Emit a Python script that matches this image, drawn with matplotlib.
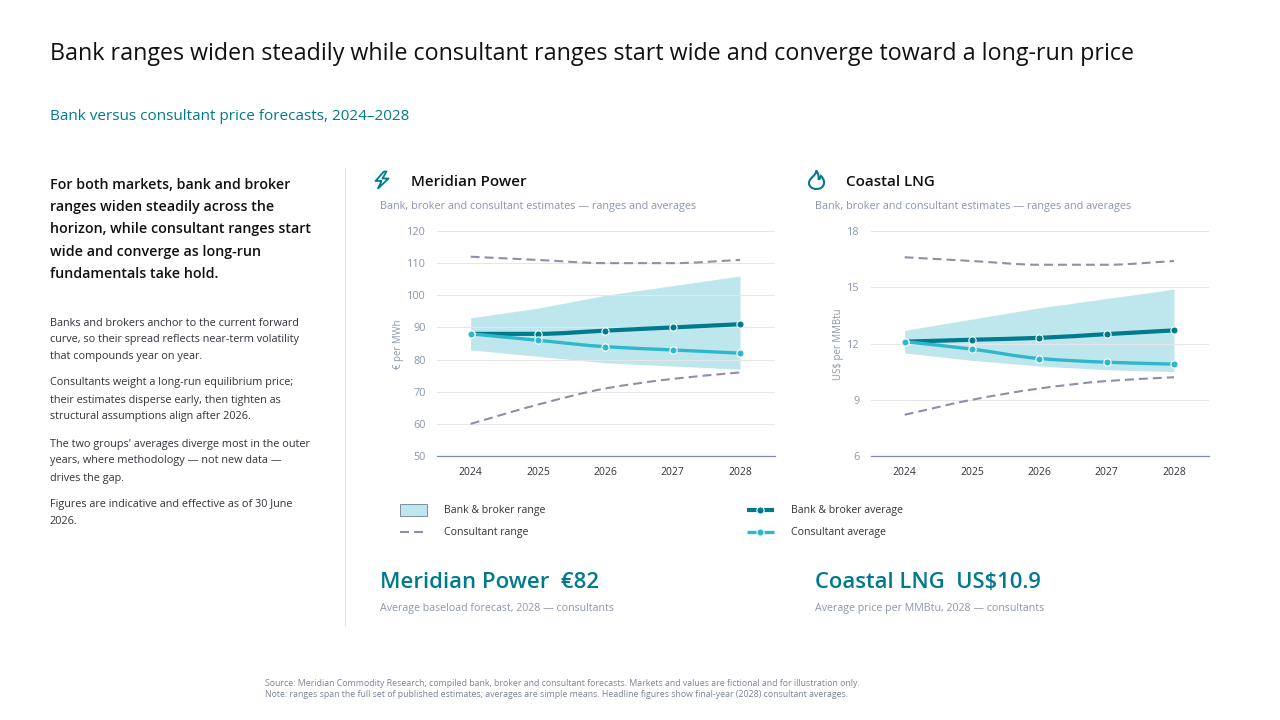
import matplotlib
matplotlib.use("Agg")
import matplotlib.pyplot as plt
from matplotlib.patches import Polygon, PathPatch, Rectangle
from matplotlib.path import Path
from matplotlib.lines import Line2D

plt.rcParams['font.family'] = ['Open Sans', 'DejaVu Sans']

years = ["2024", "2025", "2026", "2027", "2028"]

power_band_high = [93, 96, 100, 103, 106]
power_band_low = [83, 81, 79, 78, 77]
power_cons_high = [112, 111, 110, 110, 111]
power_cons_low = [60, 66, 71, 74, 76]
power_bank_avg = [88, 88, 89, 90, 91]
power_cons_avg = [88, 86, 84, 83, 82]
power_ticks = [50, 60, 70, 80, 90, 100, 110, 120]

lng_band_high = [12.7, 13.3, 13.9, 14.4, 14.9]
lng_band_low = [11.5, 11.1, 10.8, 10.6, 10.5]
lng_cons_high = [16.6, 16.4, 16.2, 16.2, 16.4]
lng_cons_low = [8.2, 9.0, 9.6, 10.0, 10.2]
lng_bank_avg = [12.1, 12.2, 12.3, 12.5, 12.7]
lng_cons_avg = [12.1, 11.7, 11.2, 11.0, 10.9]
lng_ticks = [6, 9, 12, 15, 18]

TEAL = "#007A8C"
CYAN = "#2FB8CC"
BAND = "#BEE7ED"
DASH = "#8E8FA8"
GRID = "#E4E6EA"
AXIS = "#7F8CA3"
MUTED = "#8C96AB"
DARK = "#33333B"
DASHES = (4.3, 2.4)

W, H = 1280, 720
fig = plt.figure(figsize=(W / 100, H / 100), dpi=100, facecolor="white")

# full-page axes in pixel units, for text and furniture
page = fig.add_axes([0, 0, 1, 1])
page.set_xlim(0, W)
page.set_ylim(H, 0)
page.axis("off")


def txt(x, y, s, size, color=DARK, weight="normal", ha="left"):
    page.text(x, y, s, fontsize=size, color=color, fontweight=weight, ha=ha, va="center")


def curve(x, y):
    # monotone bezier through the values
    n = len(x)
    slopes = [(y[i + 1] - y[i]) / (x[i + 1] - x[i]) for i in range(n - 1)]
    tang = [slopes[0]]
    for i in range(1, n - 1):
        if slopes[i - 1] * slopes[i] <= 0:
            tang.append(0)
        else:
            tang.append(2 * slopes[i - 1] * slopes[i] / (slopes[i - 1] + slopes[i]))
    tang.append(slopes[-1])
    verts = [(x[0], y[0])]
    for i in range(n - 1):
        h = (x[i + 1] - x[i]) / 3
        verts += [(x[i] + h, y[i] + tang[i] * h), (x[i + 1] - h, y[i + 1] - tang[i + 1] * h), (x[i + 1], y[i + 1])]
    return Path(verts, [Path.MOVETO] + [Path.CURVE4] * (len(verts) - 1))


def draw_panel(left, label_x, ticks, ylabel, band_high, band_low, cons_high, cons_low, bank_avg, cons_avg):
    ax = fig.add_axes([left / W, 1 - 456 / H, 338 / W, 225 / H])
    ax.patch.set_alpha(0)
    x = list(range(len(years)))
    ax.set_xlim(-0.5, 4.52)
    ax.set_ylim(ticks[0], ticks[-1])
    ax.set_yticks(ticks)
    ax.set_xticks(x, years)
    # gridlines sit on top of the band, under the lines
    ax.grid(axis="y", color=GRID, lw=0.75)
    ax.set_axisbelow(False)
    for s in ["top", "left", "right"]:
        ax.spines[s].set_visible(False)
    ax.spines["bottom"].set_color(AXIS)
    ax.spines["bottom"].set_linewidth(0.9)
    ax.tick_params(length=0)
    ax.tick_params(axis="x", labelsize=7.5, labelcolor=DARK, pad=8)
    ax.tick_params(axis="y", labelsize=7.8, labelcolor=MUTED, pad=8)
    ax.fill_between(x, band_low, band_high, color=BAND, lw=0, zorder=2)
    for series in (cons_high, cons_low):
        ax.add_patch(PathPatch(curve(x, series), fill=False, ec=DASH, lw=1.5, linestyle=(0, DASHES), zorder=3))
    ax.add_patch(PathPatch(curve(x, bank_avg), fill=False, ec=TEAL, lw=3, capstyle="butt", zorder=4))
    ax.plot(x, bank_avg, ls="none", marker="o", ms=5.2, mfc=TEAL, mec="white", mew=0.8, zorder=6, clip_on=False)
    ax.add_patch(PathPatch(curve(x, cons_avg), fill=False, ec=CYAN, lw=2.4, capstyle="butt", zorder=5))
    ax.plot(x, cons_avg, ls="none", marker="o", ms=5.2, mfc=CYAN, mec="white", mew=0.8, zorder=7, clip_on=False)
    page.text(label_x, 344, ylabel, fontsize=6.9, color=MUTED, rotation=90, ha="center", va="center")
    return ax


draw_panel(437, 398, power_ticks, "€ per MWh", power_band_high, power_band_low,
           power_cons_high, power_cons_low, power_bank_avg, power_cons_avg)
draw_panel(871, 839, lng_ticks, "US$ per MMBtu", lng_band_high, lng_band_low,
           lng_cons_high, lng_cons_low, lng_bank_avg, lng_cons_avg)

# headline
txt(50, 53.5, "Bank ranges widen steadily while consultant ranges start wide and converge toward a long-run price", 16.74, "#111111")
txt(50, 116, "Bank versus consultant price forecasts, 2024–2028", 10.95, TEAL)

# left column
lead = ["For both markets, bank and broker", "ranges widen steadily across the",
        "horizon, while consultant ranges start", "wide and converge as long-run",
        "fundamentals take hold."]
for i, line in enumerate(lead):
    txt(50, 185 + i * 22.2, line, 10.25, "#111111", "semibold")

notes = [(323, "Banks and brokers anchor to the current forward"),
         (339.5, "curve, so their spread reflects near-term volatility"),
         (356, "that compounds year on year."),
         (383, "Consultants weight a long-run equilibrium price;"),
         (400, "their estimates disperse early, then tighten as"),
         (417, "structural assumptions align after 2026."),
         (444, "The two groups' averages diverge most in the outer"),
         (461, "years, where methodology — not new data —"),
         (478, "drives the gap."),
         (505, "Figures are indicative and effective as of 30 June"),
         (522, "2026.")]
for y, line in notes:
    txt(50, y, line, 7.85)

page.add_line(Line2D([344.5, 344.5], [168, 625], color="#DDE0E5", lw=0.75))

# panel headings
txt(411, 181.5, "Meridian Power", 10.9, "#111111", "semibold")
txt(846, 181.5, "Coastal LNG", 10.9, "#111111", "semibold")
txt(380, 206, "Bank, broker and consultant estimates — ranges and averages", 7.87, MUTED)
txt(815, 206, "Bank, broker and consultant estimates — ranges and averages", 7.87, MUTED)

# lightning icon
bolt = [(384, 171.5), (375.5, 181), (381.5, 181), (378, 188.5), (388.5, 178.5), (382.5, 178.5), (386.5, 171.5)]
page.add_patch(Polygon(bolt, closed=True, fill=False, ec=TEAL, lw=1.3, joinstyle="round"))

# flame icon
flame = Path([(816, 170.5), (817, 175), (809, 178), (809, 183), (809, 187), (812.5, 189), (816.5, 189),
              (820.5, 189), (824, 187), (824, 182.5), (824, 179.5), (822.5, 177.5), (821, 176),
              (820.5, 178), (819.5, 179), (818.5, 179.5), (819, 176), (818, 172.5), (816, 170.5)],
             [Path.MOVETO] + [Path.CURVE4] * 18)
page.add_patch(PathPatch(flame, fill=False, ec=TEAL, lw=1.5))

# legend
page.add_patch(Rectangle((400, 503.5), 27, 12.5, fc=BAND, ec=AXIS, lw=0.7))
page.add_line(Line2D([400, 423], [532, 532], color=DASH, lw=1.5, dashes=DASHES))
page.add_line(Line2D([747, 774], [510, 510], color=TEAL, lw=3, solid_capstyle="butt", zorder=3))
page.add_line(Line2D([760], [510], color=TEAL, marker="o", ms=5.2, mfc=TEAL, mec="white", mew=0.8, zorder=4))
page.add_line(Line2D([747, 774], [532, 532], color=CYAN, lw=2.4, solid_capstyle="butt", zorder=3))
page.add_line(Line2D([760], [532], color=CYAN, marker="o", ms=5.2, mfc=CYAN, mec="white", mew=0.8, zorder=4))
txt(444, 510.5, "Bank & broker range", 7.6)
txt(444, 532.5, "Consultant range", 7.6)
txt(791, 510.5, "Bank & broker average", 7.6)
txt(791, 532.5, "Consultant average", 7.6)

# headline figures
txt(380, 582.5, "Meridian Power  €82", 15.9, TEAL, "semibold")
txt(815, 582.5, "Coastal LNG  US$10.9", 15.8, TEAL, "semibold")
txt(380, 608.5, "Average baseload forecast, 2028 — consultants", 7.7, MUTED)
txt(815, 608.5, "Average price per MMBtu, 2028 — consultants", 7.7, MUTED)

# source notes
txt(265, 683.5, "Source: Meridian Commodity Research; compiled bank, broker and consultant forecasts. Markets and values are fictional and for illustration only.", 6.3, "#7A8294")
txt(265, 694.5, "Note: ranges span the full set of published estimates; averages are simple means. Headline figures show final-year (2028) consultant averages.", 6.3, "#7A8294")

fig.savefig("out.png", dpi=100)
